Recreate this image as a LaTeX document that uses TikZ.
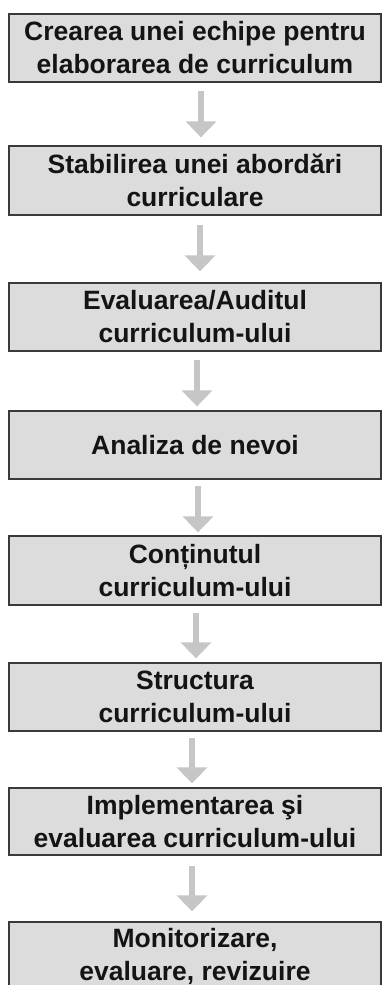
\documentclass[tikz,border=0pt]{standalone}
\usepackage{fontspec}
\setmainfont{Liberation Sans}
\usetikzlibrary{arrows.meta}
\definecolor{boxfill}{HTML}{DCDCDC}
\definecolor{boxline}{HTML}{3A3A3A}
\definecolor{arrowgray}{HTML}{C6C6C6}
\tikzset{
  stepbox/.style={draw=boxline, fill=boxfill, line width=1.3pt,
    minimum width=372pt, align=center, inner sep=0pt, text=black!92,
    font=\fontsize{26.5}{33}\selectfont\bfseries},
  flowarrow/.style={draw=arrowgray, line width=6pt,
    -{Triangle[width=30pt,length=16pt]}}
}
\begin{document}
\begin{tikzpicture}[x=1pt,y=-1pt]
\useasboundingbox (0,0) rectangle (382,985);
\clip (0,0) rectangle (382,985);
\node[stepbox, minimum height=68pt] (b1) at (195,48) {Crearea unei echipe pentru\\elaborarea de curriculum};
\node[stepbox, minimum height=69pt] (b2) at (195,180.5) {Stabilirea unei abordări\\curriculare};
\node[stepbox, minimum height=68pt] (b3) at (195,317) {Evaluarea/Auditul\\curriculum-ului};
\node[stepbox, minimum height=68pt] (b4) at (195,445) {Analiza de nevoi};
\node[stepbox, minimum height=69pt] (b5) at (195,570.5) {Conținutul\\curriculum-ului};
\node[stepbox, minimum height=68pt] (b6) at (195,697) {Structura\\curriculum-ului};
\node[stepbox, minimum height=67pt] (b7) at (195,821.5) {Implementarea şi\\evaluarea curriculum-ului};
\node[stepbox, minimum height=68pt] (b8) at (195,956) {Monitorizare,\\evaluare, revizuire};
\draw[flowarrow] ([xshift=6pt,yshift=-8pt]b1.south) -- ([xshift=6pt,yshift=8pt]b2.north);
\draw[flowarrow] ([xshift=5pt,yshift=-9pt]b2.south) -- ([xshift=5pt,yshift=11pt]b3.north);
\draw[flowarrow] ([xshift=2pt,yshift=-8pt]b3.south) -- ([xshift=2pt,yshift=4pt]b4.north);
\draw[flowarrow] ([xshift=3pt,yshift=-6pt]b4.south) -- ([xshift=3pt,yshift=3pt]b5.north);
\draw[flowarrow] ([xshift=1pt,yshift=-7pt]b5.south) -- ([xshift=1pt,yshift=4pt]b6.north);
\draw[flowarrow] ([xshift=-3pt,yshift=-6pt]b6.south) -- ([xshift=-3pt,yshift=4pt]b7.north);
\draw[flowarrow] ([xshift=-3pt,yshift=-10pt]b7.south) -- ([xshift=-3pt,yshift=10pt]b8.north);
\end{tikzpicture}
\end{document}
